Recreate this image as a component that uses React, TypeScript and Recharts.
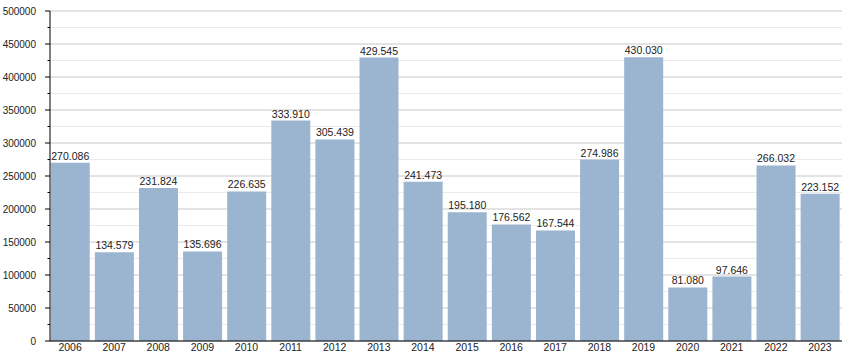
import { BarChart, Bar, XAxis, YAxis, CartesianGrid, LabelList } from 'recharts'

const years = [
  '2006', '2007', '2008', '2009', '2010', '2011', '2012', '2013', '2014',
  '2015', '2016', '2017', '2018', '2019', '2020', '2021', '2022', '2023',
]

const values = [
  270086, 134579, 231824, 135696, 226635, 333910, 305439, 429545, 241473,
  195180, 176562, 167544, 274986, 430030, 81080, 97646, 266032, 223152,
]

// major ticks every 50000, minor every 25000
const yTicks = Array.from({ length: 21 }, (_, i) => i * 25000)

const chartData = years.map((year, i) => ({ year, value: values[i] }))

const font = '"Liberation Sans", Arial, sans-serif'

function formatDots(n: number) {
  return String(n).replace(/\B(?=(\d{3})+(?!\d))/g, '.')
}

function YTick({ x, y, payload }: { x?: number; y?: number; payload?: { value: number } }) {
  const v = payload?.value ?? 0
  const major = v % 50000 === 0
  return (
    <g>
      <line x1={x! - (major ? 5 : 2.5)} x2={x} y1={y} y2={y} stroke="#000" />
      {major && (
        <text
          x={x! - 14}
          y={y}
          dy="0.35em"
          textAnchor="end"
          fontSize={10}
          fontFamily={font}
          fill="#222"
        >
          {v}
        </text>
      )}
    </g>
  )
}

function GridLine(props: { x1?: number; x2?: number; y1?: number; y2?: number; index?: number }) {
  const { x1, x2, y1, y2, index = 0 } = props
  return (
    <line
      x1={x1}
      x2={x2}
      y1={y1}
      y2={y2}
      stroke={index % 2 === 0 ? '#c8c8c8' : '#ebebeb'}
      strokeWidth={1}
    />
  )
}

export default function App() {
  return (
    <div style={{ position: 'absolute', left: 0, top: 0, background: '#fff' }}>
      <BarChart
        width={850}
        height={360}
        data={chartData}
        margin={{ top: 11, right: 8, left: 0, bottom: 0 }}
        barCategoryGap={2.75}
      >
        <CartesianGrid vertical={false} horizontal={(p: any) => <GridLine key={p.key} {...p} />} />
        <XAxis
          dataKey="year"
          axisLine={{ stroke: '#000' }}
          tickLine={false}
          tickSize={0}
          height={19}
          tickMargin={3}
          padding={{ left: -2, right: 0 }}
          tick={{ fontSize: 10.5, fontFamily: font, fill: '#222' }}
        />
        <YAxis
          width={50}
          domain={[0, 500000]}
          ticks={yTicks}
          interval={0}
          tickSize={0}
          tickMargin={0}
          tickLine={false}
          axisLine={{ stroke: '#000' }}
          tick={<YTick />}
        />
        <Bar dataKey="value" fill="#9bb4cf" isAnimationActive={false}>
          <LabelList
            dataKey="value"
            position="top"
            offset={3}
            formatter={(v: any) => formatDots(Number(v))}
            style={{ fontSize: 10.5, fontFamily: font, fill: '#222' }}
          />
        </Bar>
      </BarChart>
    </div>
  )
}
